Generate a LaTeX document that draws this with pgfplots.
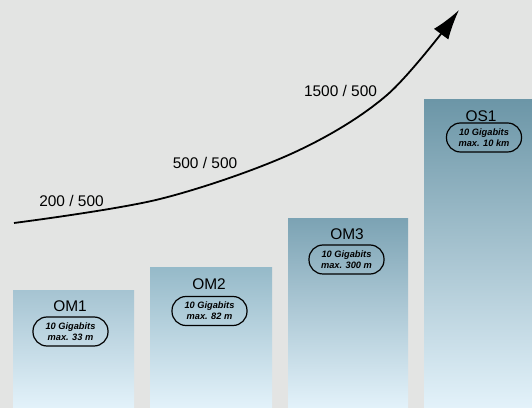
\documentclass[border=0pt]{standalone}
\usepackage{pgfplots}
\pgfplotsset{compat=1.18}
\usepackage{fontspec}
\setmainfont{Liberation Sans}
\usetikzlibrary{arrows.meta}
\definecolor{bgc}{RGB}{227,228,227}
\definecolor{barbot}{RGB}{227,242,250}
\definecolor{topA}{RGB}{166,196,210}
\definecolor{topB}{RGB}{150,186,201}
\definecolor{topC}{RGB}{124,163,180}
\definecolor{topD}{RGB}{108,150,167}
\tikzset{
  pill/.style={draw=black, line width=1.2bp, rounded corners=14bp,
    minimum width=75bp, minimum height=29bp, inner sep=0pt, align=center,
    font=\fontsize{9.3}{11}\selectfont\bfseries\itshape},
  lab/.style={font=\fontsize{15.5}{18}\selectfont, inner sep=0pt},
}
\begin{document}
\begin{tikzpicture}
\begin{axis}[
  width=532bp, height=408bp, scale only axis,
  xmin=0, xmax=532, ymin=0, ymax=408,
  axis lines=none, ticks=none,
  axis background/.style={fill=bgc},
  clip=true,
]
\addplot[ybar, bar width=121, bar shift=0pt, draw=none, top color=topA, bottom color=barbot] coordinates {(73.5,117)};
\addplot[ybar, bar width=122, bar shift=0pt, draw=none, top color=topB, bottom color=barbot] coordinates {(211,140)};
\addplot[ybar, bar width=120, bar shift=0pt, draw=none, top color=topC, bottom color=barbot] coordinates {(348,189)};
\addplot[ybar, bar width=121, bar shift=0pt, draw=none, top color=topD, bottom color=barbot] coordinates {(484.5,308)};

\addplot[smooth, tension=0.55, line width=1.8bp, black, -{Latex[length=30bp,width=18bp]}] coordinates {
 (14,185) (160,209) (293,255) (387,313) (459,398)};

\node[lab] at (axis cs:71.5,207) {200 / 500};
\node[lab] at (axis cs:205,245.5) {500 / 500};
\node[lab] at (axis cs:340.5,317.5) {1500 / 500};

\node[lab] at (axis cs:70,102) {OM1};
\node[pill] at (axis cs:70.5,76.5) {10 Gigabits\\max. 33 m};
\node[lab] at (axis cs:209,124) {OM2};
\node[pill] at (axis cs:209.5,97) {10 Gigabits\\max. 82 m};
\node[lab] at (axis cs:347,174) {OM3};
\node[pill] at (axis cs:346.5,148.5) {10 Gigabits\\max. 300 m};
\node[lab] at (axis cs:481,292) {OS1};
\node[pill] at (axis cs:484,270.5) {10 Gigabits\\max. 10 km};
\end{axis}
\end{tikzpicture}
\end{document}
